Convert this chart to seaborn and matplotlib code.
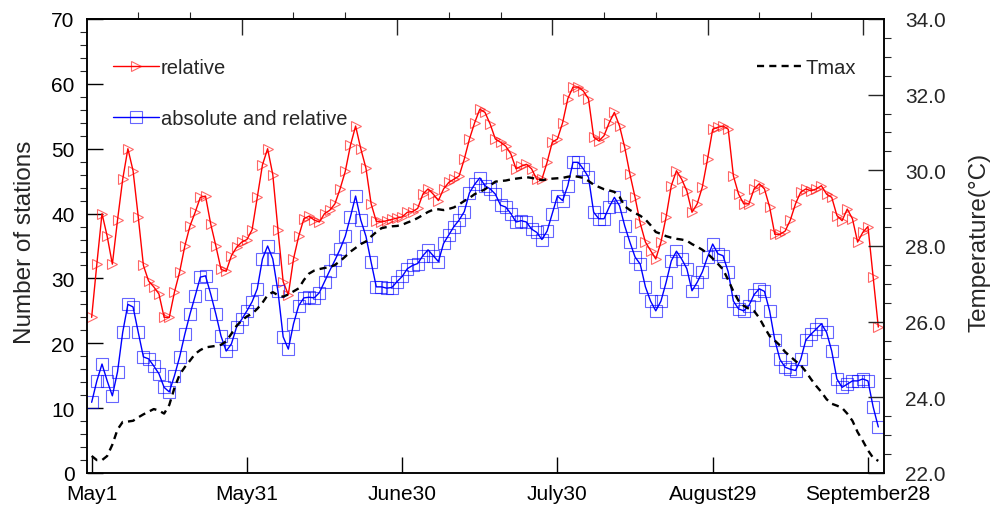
import numpy as np
import pandas as pd
import matplotlib
matplotlib.use("Agg")
import matplotlib.pyplot as plt
from matplotlib.ticker import FormatStrFormatter, NullFormatter
import seaborn as sns

# ---------------- data ----------------
day_index = list(range(153))  # May 1 .. Sep 30
tick_days = [0, 30, 60, 90, 120, 150]
tick_labels = ["May1", "May31", "June30", "July30", "August29", "September28"]
top_major_days = [29, 59, 89, 119, 149]
top_minor_days = [9, 19, 39, 49, 69, 79, 99, 109, 129, 139]

relative = [
    24.0, 32.2, 40.0, 36.5, 32.2, 39.0, 45.3, 50.0, 46.6, 39.5,
    32.0, 29.6, 28.7, 27.6, 24.0, 24.0, 27.9, 31.0, 35.0, 38.1,
    40.2, 42.5, 42.7, 38.4, 35.0, 31.4, 31.1, 33.5, 34.8, 35.6,
    36.0, 37.5, 42.5, 47.5, 50.0, 46.0, 37.5, 29.5, 27.5, 33.0,
    36.5, 39.2, 39.6, 39.0, 38.7, 40.0, 40.5, 41.5, 43.8, 46.5,
    50.5, 53.5, 50.0, 47.0, 41.5, 38.8, 38.7, 38.9, 39.1, 39.3,
    39.5, 40.2, 40.3, 40.8, 43.0, 43.8, 43.0, 42.0, 43.8, 44.8,
    45.3, 45.8, 48.4, 51.5, 54.0, 56.1, 55.6, 53.8, 51.5, 51.0,
    50.4, 49.2, 46.9, 47.3, 47.6, 46.9, 45.3, 45.3, 47.9, 51.0,
    51.5, 54.0, 57.7, 59.5, 59.5, 58.9, 57.7, 51.8, 51.2, 52.0,
    54.0, 55.6, 53.5, 50.2, 46.1, 42.5, 38.5, 35.6, 34.3, 33.0,
    35.6, 39.5, 44.3, 46.6, 45.3, 43.5, 40.2, 41.5, 44.1, 48.4,
    53.0, 53.3, 53.5, 53.0, 45.8, 43.0, 41.5, 41.5, 43.8, 44.6,
    43.8, 41.0, 36.8, 36.8, 37.3, 39.0, 41.5, 43.3, 43.8, 43.5,
    43.8, 44.3, 43.0, 42.5, 39.7, 38.9, 40.7, 39.2, 35.6, 37.1,
    38.0, 30.2, 22.5,
]

absolute_and_relative = [
    10.9, 14.2, 16.8, 14.2, 11.9, 15.6, 21.7, 26.0, 25.6, 21.7,
    17.9, 17.6, 16.5, 15.3, 13.2, 12.5, 15.0, 17.9, 21.4, 24.5,
    27.3, 30.2, 30.4, 27.6, 24.5, 21.1, 18.8, 19.9, 22.5, 23.7,
    25.0, 26.4, 28.4, 33.0, 35.0, 33.0, 28.0, 21.0, 19.1, 23.0,
    25.8, 27.0, 27.1, 27.0, 27.8, 29.5, 31.2, 32.8, 34.5, 36.5,
    39.5, 42.7, 39.0, 36.5, 32.5, 28.7, 28.7, 28.5, 28.6, 29.5,
    30.3, 31.5, 32.0, 32.3, 33.5, 34.4, 33.5, 32.6, 35.4, 36.7,
    38.0, 39.0, 40.3, 43.2, 44.5, 45.5, 44.3, 43.8, 43.0, 41.3,
    41.0, 40.0, 38.7, 38.9, 38.7, 37.6, 37.1, 36.0, 37.3, 40.0,
    42.7, 42.0, 44.3, 47.9, 47.9, 46.9, 45.6, 40.2, 39.2, 39.2,
    41.0, 42.5, 41.2, 38.1, 35.6, 33.3, 32.2, 28.7, 26.5, 25.0,
    26.5, 29.4, 32.7, 34.2, 33.0, 31.5, 28.1, 29.4, 31.0, 33.3,
    35.3, 33.8, 33.5, 31.0, 26.5, 25.3, 25.0, 25.8, 27.5, 28.4,
    28.0, 25.0, 20.5, 17.5, 16.3, 16.0, 15.8, 17.5, 20.5, 21.4,
    22.2, 23.0, 21.7, 18.8, 14.5, 13.2, 13.7, 14.2, 14.2, 14.5,
    14.2, 10.2, 7.1,
]

tmax = [
    22.45, 22.34, 22.34, 22.45, 22.75, 23.15, 23.35, 23.36, 23.38, 23.47,
    23.55, 23.62, 23.69, 23.65, 23.57, 23.80, 24.25, 24.60, 24.80, 24.97,
    25.15, 25.25, 25.32, 25.34, 25.36, 25.39, 25.48, 25.68, 25.89, 26.03,
    26.14, 26.21, 26.34, 26.50, 26.70, 26.78, 26.70, 26.66, 26.72, 26.80,
    26.88, 27.10, 27.27, 27.35, 27.39, 27.42, 27.44, 27.50, 27.60, 27.72,
    27.85, 27.95, 28.05, 28.12, 28.25, 28.37, 28.47, 28.50, 28.52, 28.53,
    28.56, 28.62, 28.67, 28.74, 28.82, 28.90, 28.96, 28.97, 28.95, 28.98,
    29.02, 29.10, 29.19, 29.27, 29.37, 29.43, 29.50, 29.60, 29.70, 29.72,
    29.73, 29.76, 29.78, 29.80, 29.82, 29.80, 29.77, 29.74, 29.76, 29.78,
    29.79, 29.80, 29.83, 29.85, 29.83, 29.80, 29.72, 29.62, 29.56, 29.50,
    29.47, 29.43, 29.30, 29.05, 28.95, 28.87, 28.80, 28.70, 28.55, 28.37,
    28.32, 28.26, 28.22, 28.19, 28.17, 28.14, 28.05, 27.98, 27.90, 27.80,
    27.67, 27.53, 27.38, 27.10, 26.80, 26.55, 26.42, 26.34, 26.28, 26.10,
    25.85, 25.62, 25.50, 25.37, 25.20, 25.08, 24.96, 24.85, 24.68, 24.48,
    24.30, 24.14, 23.95, 23.83, 23.78, 23.72, 23.57, 23.38, 23.08, 22.85,
    22.60, 22.40, 22.32,
]

df = pd.DataFrame({
    "day": day_index,
    "relative": relative,
    "absolute and relative": absolute_and_relative,
    "Tmax": tmax,
})

# ---------------- style ----------------
sns.set_style("ticks")
plt.rcParams["font.family"] = ["Liberation Sans", "DejaVu Sans"]
plt.rcParams["axes.linewidth"] = 1.1

fig = plt.figure(figsize=(10, 5.1), dpi=100)
ax = fig.add_axes([0.087, 0.0706, 0.797, 0.8902])

sns.lineplot(data=df, x="day", y="relative", ax=ax, color="#ff0000", lw=1.0,
             marker=">", markersize=7, markerfacecolor="none",
             markeredgecolor=(1, 0, 0, 0.6), markeredgewidth=0.8,
             label="relative", legend=False)
sns.lineplot(data=df, x="day", y="absolute and relative", ax=ax, color="#0000ff",
             lw=1.0, marker="s", markersize=8, markerfacecolor="none",
             markeredgecolor=(0, 0, 1, 0.6), markeredgewidth=0.8,
             label="absolute and relative", legend=False)

ax2 = ax.twinx()
sns.lineplot(data=df, x="day", y="Tmax", ax=ax2, color="black", lw=1.7,
             linestyle=(0, (3, 2.2)), label="Tmax", legend=False)

# ---------------- axes ----------------
ax.set_xlim(-0.9, 153.1)
ax.set_ylim(0, 70)
ax2.set_ylim(22, 34)

ax.set_xticks(tick_days)
ax.set_xticklabels(tick_labels)
ax.set_yticks(np.arange(0, 71, 10))
ax.set_yticks(np.arange(0, 71, 2), minor=True)
ax.tick_params(axis="both", which="major", direction="in", length=11.5,
               width=1.0, labelsize=15, colors="black")
ax.tick_params(axis="y", which="major", pad=9, right=False)
ax.tick_params(axis="x", which="major", pad=8)
ax.tick_params(axis="y", which="minor", direction="out", length=5, width=0.8, right=False)
ax.tick_params(axis="x", which="minor", bottom=False)
ax.set_xlabel("")
ax.set_ylabel("Number of stations", fontsize=17.5)
ax.yaxis.set_label_coords(-0.064, 0.51)

ax2.set_yticks(np.arange(22, 34.01, 2))
ax2.set_yticks(np.arange(22, 34.01, 0.5), minor=True)
ax2.yaxis.set_major_formatter(FormatStrFormatter("%.1f"))
ax2.tick_params(axis="y", which="major", direction="in", length=11.5, width=1.0,
                labelsize=15, pad=15)
ax2.tick_params(axis="y", which="minor", direction="out", length=5, width=0.8)
ax2.set_ylabel("Temperature(°C)", fontsize=17.5, rotation=90)
ax2.yaxis.set_label_coords(1.106, 0.51)

sec = ax.secondary_xaxis("top")
sec.set_xticks(top_major_days)
sec.set_xticks(top_minor_days, minor=True)
sec.xaxis.set_major_formatter(NullFormatter())
sec.tick_params(which="major", direction="in", length=11.5, width=1.0)
sec.tick_params(which="minor", direction="out", length=5, width=0.8)

for a in (ax, ax2):
    for s in a.spines.values():
        s.set_visible(True)
        s.set_color("black")
        s.set_linewidth(1.1)

# ---------------- legends ----------------
lines = ax.get_lines()
ax.legend(handles=lines[:2], loc="upper left", bbox_to_anchor=(0.032, 0.914),
          frameon=False, fontsize=14.5, handlelength=2.3, handletextpad=0.1,
          labelspacing=1.6, numpoints=1, borderaxespad=0, borderpad=0)
ax2.legend(handles=ax2.get_lines()[:1], loc="upper right", bbox_to_anchor=(0.965, 0.914),
           frameon=False, fontsize=14.5, handlelength=2.3, handletextpad=0.1,
           borderaxespad=0, borderpad=0)

fig.savefig("out.png", dpi=100)
